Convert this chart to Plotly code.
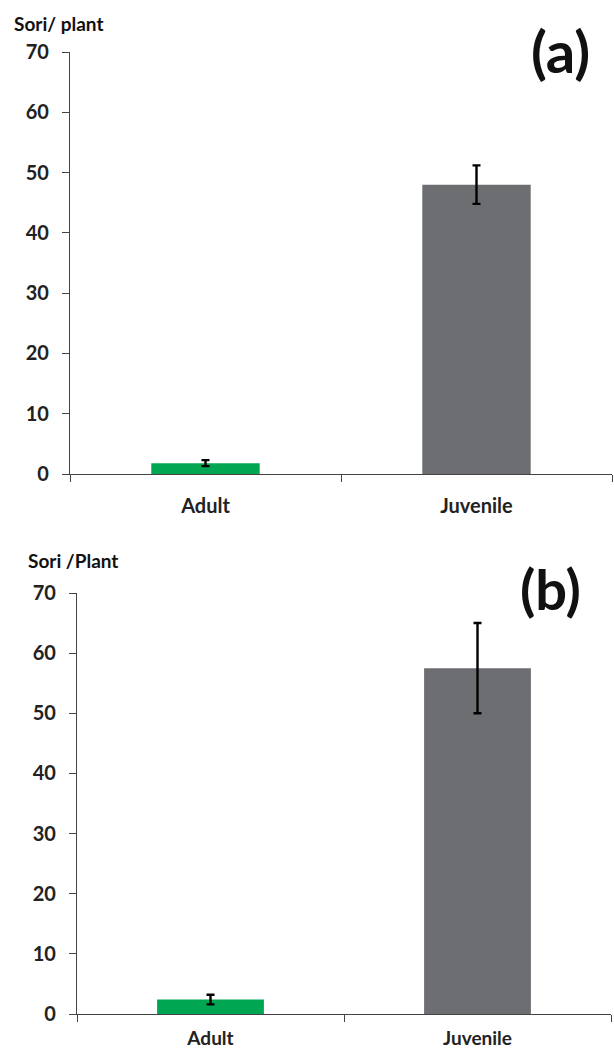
import plotly.graph_objects as go
from plotly.subplots import make_subplots

categories = ["Adult", "Juvenile"]
sori_a = [1.8, 48.0]
err_a = [0.5, 3.2]
sori_b = [2.4, 57.5]
err_b = [0.8, 7.5]
bar_colors = ["#00A651", "#6D6E71"]
y_ticks = [0, 10, 20, 30, 40, 50, 60, 70]

W, H = 614, 1052
FONT = "Lato"

fig = make_subplots(rows=2, cols=1)

for row, vals, errs in [(1, sori_a, err_a), (2, sori_b, err_b)]:
    fig.add_trace(
        go.Bar(
            x=categories,
            y=vals,
            width=0.4,
            marker=dict(color=bar_colors, line=dict(width=0)),
            error_y=dict(type="data", array=errs, visible=True,
                         color="black", thickness=2.4, width=4),
            showlegend=False,
        ),
        row=row, col=1,
    )

def px_x(p):
    return p / W

def px_y(p):
    return 1 - p / H

fig.update_layout(
    width=W, height=H,
    margin=dict(l=0, r=0, t=0, b=0),
    paper_bgcolor="white", plot_bgcolor="white",
    font=dict(family=FONT, color="#222222"),
    xaxis=dict(domain=[px_x(70), px_x(612)], anchor="y"),
    yaxis=dict(domain=[px_y(474), px_y(52)], anchor="x"),
    xaxis2=dict(domain=[px_x(77), px_x(611)], anchor="y2"),
    yaxis2=dict(domain=[px_y(1014), px_y(593)], anchor="x2"),
    bargap=0.6,
)

for ax, standoff, fsize in [("xaxis", 14, 20), ("xaxis2", 7, 19)]:
    fig.layout[ax].update(
        type="category", showgrid=False, showline=True, linecolor="#444444",
        linewidth=1.3, ticks="outside", tickson="boundaries", ticklen=7,
        tickcolor="#444444", tickwidth=1.3, automargin=False,
        tickfont=dict(family=FONT, size=fsize, color="#222222", weight="bold"),
        ticklabelstandoff=standoff, range=[-0.5, 1.5], zeroline=False,
    )
for ax in ["yaxis", "yaxis2"]:
    fig.layout[ax].update(
        range=[0, 70], tickvals=y_ticks, showgrid=False, showline=True,
        linecolor="#444444", linewidth=1.3, ticks="outside", ticklen=7,
        tickcolor="#444444", tickwidth=1.3, zeroline=False, automargin=False,
        tickfont=dict(family=FONT, size=20, color="#222222", weight="bold"),
        ticklabelstandoff=9,
    )

annots = [
    ("Sori/ plant", 12, 23, 19, "left"),
    ("Sori /Plant", 26, 560, 19, "left"),
    ("(a)", 560, 50, 58, "center"),
    ("(b)", 550, 588, 56, "center"),
]
for text, x, y, size, anchor in annots:
    fig.add_annotation(
        text=text, xref="paper", yref="paper", x=px_x(x), y=px_y(y),
        xanchor=anchor, yanchor="middle", showarrow=False,
        font=dict(family=FONT, size=size, color="#111111", weight="bold"),
    )

fig.write_html("out.html", config={"displayModeBar": False},
               post_script="document.body.style.margin='0px';")
